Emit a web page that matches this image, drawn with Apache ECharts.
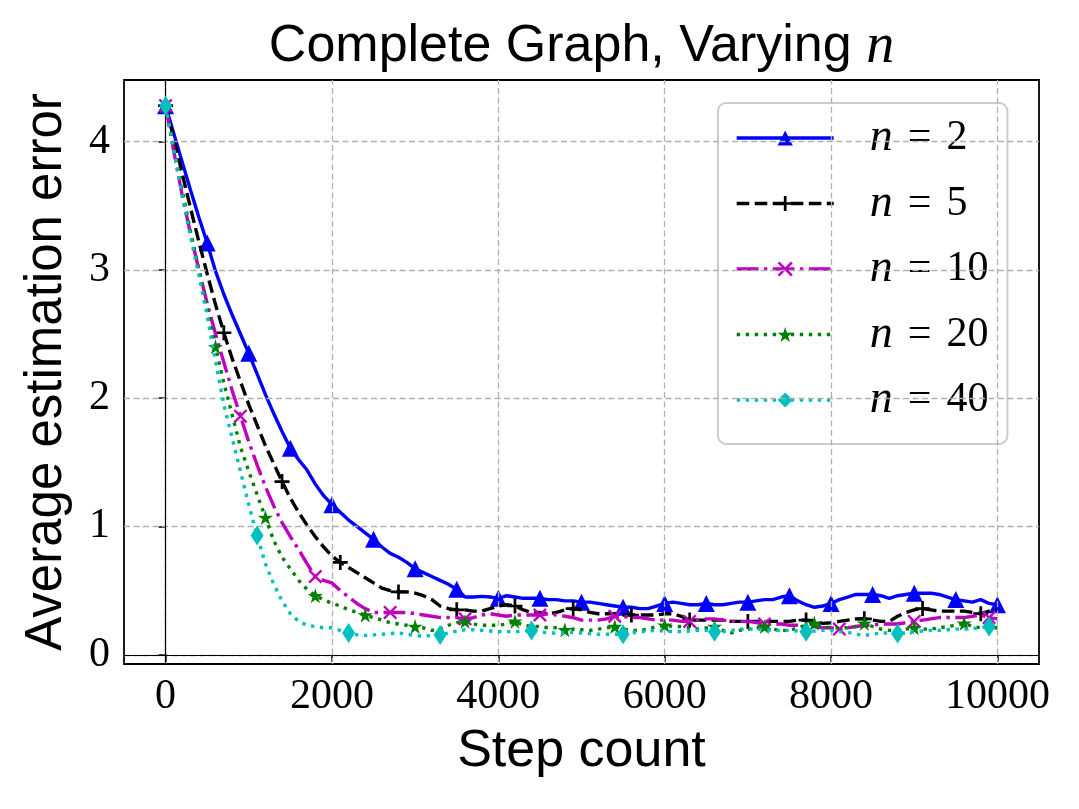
<!DOCTYPE html>
<html><head><meta charset="utf-8">
<script src="https://cdn.jsdelivr.net/npm/echarts@6/dist/echarts.min.js"></script>
<style>html,body{margin:0;padding:0;background:#fff}#c{width:1079px;height:809px}</style>
</head><body><div id="c"></div>
<script>
const steps = [0,100,200,300,400,500,600,700,800,900,1000,1100,1200,1300,1400,1500,1600,1700,1800,1900,2000,2100,2200,2300,2400,2500,2600,2700,2800,2900,3000,3100,3200,3300,3400,3500,3600,3700,3800,3900,4000,4100,4200,4300,4400,4500,4600,4700,4800,4900,5000,5100,5200,5300,5400,5500,5600,5700,5800,5900,6000,6100,6200,6300,6400,6500,6600,6700,6800,6900,7000,7100,7200,7300,7400,7500,7600,7700,7800,7900,8000,8100,8200,8300,8400,8500,8600,8700,8800,8900,9000,9100,9200,9300,9400,9500,9600,9700,9800,9900,10000];

const err_n2 = [4.28,4.06,3.84,3.62,3.41,3.21,2.99,2.81,2.65,2.50,2.35,2.19,2.03,1.88,1.74,1.61,1.52,1.44,1.33,1.24,1.17,1.11,1.05,1.00,0.95,0.90,0.84,0.79,0.76,0.72,0.67,0.64,0.61,0.58,0.55,0.51,0.45,0.45,0.455,0.45,0.44,0.46,0.45,0.44,0.44,0.44,0.43,0.43,0.42,0.42,0.41,0.41,0.40,0.39,0.38,0.37,0.37,0.36,0.36,0.38,0.40,0.41,0.40,0.39,0.39,0.40,0.39,0.39,0.40,0.41,0.41,0.42,0.43,0.43,0.45,0.46,0.42,0.39,0.37,0.38,0.40,0.43,0.45,0.47,0.47,0.47,0.46,0.44,0.46,0.47,0.48,0.48,0.48,0.47,0.45,0.43,0.42,0.41,0.43,0.40,0.39];

const err_n5 = [4.28,4.02,3.75,3.48,3.22,2.97,2.73,2.51,2.31,2.13,1.95,1.79,1.63,1.49,1.35,1.22,1.11,1.01,0.92,0.84,0.77,0.72,0.68,0.64,0.60,0.56,0.52,0.50,0.49,0.49,0.48,0.46,0.43,0.38,0.36,0.35,0.35,0.34,0.34,0.36,0.38,0.39,0.38,0.35,0.33,0.33,0.32,0.33,0.35,0.36,0.35,0.33,0.32,0.32,0.32,0.31,0.31,0.31,0.31,0.31,0.32,0.32,0.30,0.27,0.27,0.27,0.27,0.27,0.26,0.26,0.26,0.26,0.26,0.26,0.26,0.26,0.27,0.27,0.26,0.245,0.25,0.26,0.27,0.28,0.28,0.27,0.26,0.26,0.30,0.33,0.35,0.36,0.35,0.34,0.34,0.34,0.34,0.33,0.32,0.34,0.35];

const err_n10 = [4.28,3.92,3.58,3.28,3.00,2.74,2.50,2.28,2.06,1.86,1.66,1.48,1.31,1.16,1.03,0.92,0.82,0.71,0.61,0.58,0.56,0.50,0.45,0.40,0.36,0.33,0.33,0.33,0.33,0.33,0.32,0.31,0.30,0.29,0.29,0.29,0.28,0.29,0.31,0.32,0.31,0.30,0.31,0.31,0.31,0.31,0.32,0.31,0.30,0.29,0.27,0.27,0.27,0.28,0.30,0.30,0.29,0.29,0.28,0.27,0.27,0.27,0.26,0.26,0.27,0.28,0.28,0.27,0.26,0.26,0.26,0.25,0.24,0.24,0.24,0.23,0.23,0.22,0.22,0.21,0.21,0.20,0.21,0.22,0.23,0.23,0.24,0.24,0.24,0.25,0.26,0.27,0.28,0.29,0.29,0.29,0.29,0.30,0.31,0.29,0.28];

const err_n20 = [4.28,3.95,3.62,3.30,3.00,2.70,2.40,2.12,1.87,1.62,1.43,1.25,1.07,0.89,0.76,0.67,0.58,0.51,0.46,0.43,0.40,0.38,0.35,0.33,0.31,0.29,0.27,0.25,0.24,0.23,0.22,0.21,0.19,0.20,0.23,0.25,0.26,0.24,0.23,0.23,0.23,0.24,0.26,0.23,0.22,0.22,0.21,0.21,0.195,0.20,0.195,0.19,0.20,0.21,0.22,0.20,0.19,0.19,0.20,0.22,0.23,0.22,0.22,0.21,0.20,0.21,0.22,0.19,0.17,0.19,0.20,0.21,0.22,0.20,0.19,0.19,0.21,0.23,0.245,0.22,0.21,0.21,0.21,0.22,0.245,0.22,0.20,0.19,0.19,0.20,0.21,0.20,0.20,0.21,0.22,0.23,0.245,0.22,0.21,0.21,0.21];

const err_n40 = [4.28,3.93,3.58,3.26,2.96,2.64,2.29,1.95,1.69,1.43,1.17,0.93,0.71,0.55,0.42,0.32,0.26,0.23,0.22,0.21,0.21,0.19,0.17,0.155,0.15,0.155,0.16,0.165,0.17,0.16,0.15,0.145,0.15,0.155,0.17,0.185,0.195,0.195,0.19,0.185,0.18,0.18,0.18,0.185,0.19,0.18,0.17,0.17,0.17,0.175,0.17,0.165,0.16,0.16,0.16,0.16,0.17,0.18,0.185,0.19,0.185,0.18,0.18,0.185,0.19,0.19,0.18,0.18,0.19,0.20,0.20,0.20,0.195,0.19,0.19,0.19,0.185,0.18,0.185,0.19,0.19,0.18,0.175,0.16,0.15,0.16,0.17,0.17,0.165,0.17,0.18,0.185,0.19,0.19,0.195,0.20,0.20,0.205,0.21,0.22,0.20];

const seriesNames = ['n = 2','n = 5','n = 10','n = 20','n = 40'];
const markEvery = [5, 7, 9, 6, 11];
const xTicks = [0, 2000, 4000, 6000, 8000, 10000];
const yTicks = [0, 1, 2, 3, 4];

const PLUS = 'path://M4.1,0H5.9V4.1H10V5.9H5.9V10H4.1V5.9H0V4.1H4.1Z';
const CROSS = 'path://M0,1.2L1.2,0L5,3.8L8.8,0L10,1.2L6.2,5L10,8.8L8.8,10L5,6.2L1.2,10L0,8.8L3.8,5Z';
const STAR = 'path://M50,0L61.2,34.5L97.6,34.5L68.2,55.9L79.4,90.5L50,69.1L20.6,90.5L31.8,55.9L2.4,34.5L38.8,34.5Z';

const LW = 3.4;
const styles = [
  {color:'#0000ff', type:'solid', symbol:'triangle', size:17},
  {color:'#000000', type:[3.7*LW, 1.6*LW], symbol:PLUS, size:15},
  {color:'#bf00bf', type:[6.4*LW, 1.6*LW, 1*LW, 1.6*LW], symbol:CROSS, size:14},
  {color:'#008000', type:[1*LW, 1.65*LW], symbol:STAR, size:15},
  {color:'#00bfbf', type:[1*LW, 1.65*LW], symbol:'diamond', size:[13,20]}
];
const allValues = [err_n2, err_n5, err_n10, err_n20, err_n40];

const series = [];
// helper series carrying the grid lines and zero lines
series.push({
  type:'line', data:[], z:1, silent:true, animation:false,
  markLine:{
    silent:true, symbol:['none','none'], label:{show:false}, animation:false,
    lineStyle:{type:[6,3.5], color:'#b0b0b0', width:1.3},
    data: xTicks.map(v => ({xAxis:v})).concat(yTicks.map(v => ({yAxis:v})))
  }
});
series.push({
  type:'line', data:[], z:1.5, silent:true, animation:false,
  markLine:{
    silent:true, symbol:['none','none'], label:{show:false}, animation:false,
    lineStyle:{type:'solid', color:'#000000', width:1.2},
    data:[{xAxis:0},{yAxis:0}]
  }
});
allValues.forEach((vals, k) => {
  const st = styles[k];
  series.push({
    name: seriesNames[k], type:'line', z: 3 + k, animation:false,
    showAllSymbol:true, symbol: st.symbol, symbolSize: st.size,
    color: st.color,
    itemStyle:{color: st.color},
    lineStyle:{color: st.color, width: LW, type: st.type},
    data: vals.map((v, i) => (i % markEvery[k] === 0) ? [steps[i], v] : {value:[steps[i], v], symbol:'none'})
  });
});

const chart = echarts.init(document.getElementById('c'), null, {renderer:'canvas'});
chart.setOption({
  backgroundColor:'#ffffff',
  animation:false,
  grid:{left:124, right:40, top:80, bottom:145, show:true, borderColor:'#000', borderWidth:1.8, backgroundColor:'transparent'},
  graphic:[{
    type:'text', x:581.5, y:47, z:10,
    style:{
      text:'{a|Complete Graph, Varying }{b|n}',
      align:'center', verticalAlign:'middle', fill:'#000',
      rich:{
        a:{fontFamily:'Liberation Sans', fontSize:52, fill:'#000'},
        b:{fontFamily:'Liberation Serif', fontStyle:'italic', fontSize:56, fill:'#000'}
      }
    }
  }],
  xAxis:{
    type:'value', min:-500, max:10500,
    axisLine:{show:false},
    axisTick:{show:true, customValues:xTicks, length:7, lineStyle:{color:'#000', width:1.5}},
    axisLabel:{show:true, customValues:xTicks, formatter: v => String(v), fontFamily:'Liberation Serif', fontSize:42, color:'#000', margin:12},
    splitLine:{show:false},
    name:'Step count', nameLocation:'middle', nameGap:62,
    nameTextStyle:{fontFamily:'Liberation Sans', fontSize:52, color:'#000'}
  },
  yAxis:{
    type:'value', min:-0.072, max:4.48,
    axisLine:{show:false},
    axisTick:{show:true, customValues:yTicks, length:7, lineStyle:{color:'#000', width:1.5}},
    axisLabel:{show:true, customValues:yTicks, formatter: v => String(v), fontFamily:'Liberation Serif', fontSize:42, color:'#000', margin:14},
    splitLine:{show:false},
    name:'Average estimation error', nameLocation:'middle', nameGap:52, nameRotate:90,
    nameTextStyle:{fontFamily:'Liberation Sans', fontSize:51, color:'#000'}
  },
  legend:{
    data: seriesNames, orient:'vertical', left:718, top:103,
    itemWidth:97, itemHeight:19, itemGap:19.5, padding:[12,19,21,17],
    backgroundColor:'rgba(255,255,255,0.8)', borderColor:'#cccccc', borderWidth:2, borderRadius:8,
    selectedMode:false,
    lineStyle:{width: LW},
    formatter: name => '{i|n}{e|=}{d|' + name.split('= ')[1] + '}',
    textStyle:{
      color:'#000',
      rich:{
        i:{fontFamily:'Liberation Serif', fontStyle:'italic', fontSize:46, lineHeight:44, padding:[0,0,0,31]},
        e:{fontFamily:'Liberation Serif', fontSize:42, lineHeight:44, padding:[0,15,0,15]},
        d:{fontFamily:'Liberation Serif', fontSize:42, lineHeight:44}
      }
    }
  },
  series: series
});
</script>
</body></html>
